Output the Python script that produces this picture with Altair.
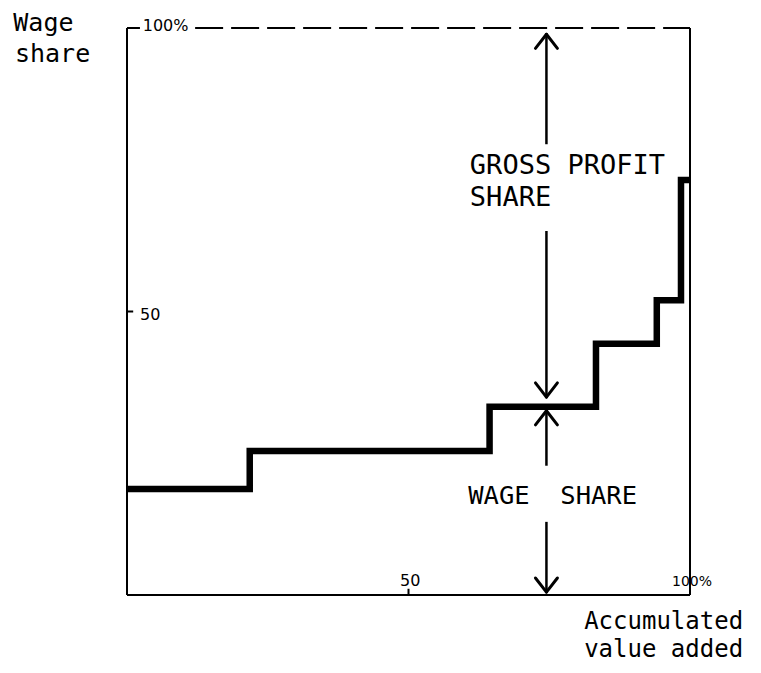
import altair as alt
import pandas as pd

# ---- data ----
# step curve: accumulated value added (x, %) vs wage share (y, %)
cum_value_added = [0, 21.8, 64.4, 83.3, 94.1, 98.4, 100]
wage_share = [18.7, 25.4, 33.2, 44.3, 52.0, 73.2, 73.2]

# axis ticks
x_tick_values = [50]
y_tick_values = [50, 100]
x_tick_labels = ["50", "100%"]
x_tick_label_pos = [50.3, 96.8]
y_tick_labels = ["50", "100%"]
y_tick_label_pos = [49.3, 100.4]

# double-headed arrows (vertical, at one x position)
arrow_x = 74.5
shaft_top = [98.9, 64.2, 32.5, 12.9]
shaft_bottom = [79.5, 34.9, 22.8, 0.5]
tip_y = [98.9, 34.9, 32.5, 0.5]
tip_dir = [1, -1, 1, -1]   # 1 = pointing up, -1 = pointing down
head_half_w = 1.95
head_len = 2.5

# annotation texts
ann_text = ["Wage", "share", "GROSS PROFIT", "SHARE", "WAGE\u00a0\u00a0SHARE",
            "Accumulated", "value added"]
ann_x = [-20.2, -19.9, 60.9, 60.9, 60.6, 81.2, 81.2]
ann_y = [99.5, 94.0, 74.25, 68.6, 16.0, -6.0, -11.0]
ann_size = [25, 25, 27, 27, 25.5, 24, 24]

# ---- build tables ----
W, H = 563, 567
xs = alt.Scale(domain=[0, 100], nice=False, zero=False)
ys = alt.Scale(domain=[0, 100], nice=False, zero=False)

step_df = pd.DataFrame({"x": cum_value_added, "y": wage_share})

axis_segs = [
    (0, 0, 0, 100),      # left axis
    (0, 0, 100, 0),      # bottom axis
    (100, 0, 100, 100),  # right border
    (0, 100, 2.3, 100),  # top tick
]
for v in y_tick_values[:1]:
    axis_segs.append((0, v, 1.1, v))
for v in x_tick_values:
    axis_segs.append((v, 0, v, 1.1))
axis_df = pd.DataFrame(axis_segs, columns=["x", "y", "x2", "y2"])

dash_df = pd.DataFrame({"x": [12.1], "y": [100], "x2": [100], "y2": [100]})

shaft_df = pd.DataFrame({"x": [arrow_x] * 4, "y": shaft_top,
                         "x2": [arrow_x] * 4, "y2": shaft_bottom})
heads = []
for t, d in zip(tip_y, tip_dir):
    heads.append((arrow_x - head_half_w, t - d * head_len, arrow_x, t))
    heads.append((arrow_x + head_half_w, t - d * head_len, arrow_x, t))
head_df = pd.DataFrame(heads, columns=["x", "y", "x2", "y2"])

ann_df = pd.DataFrame({"t": ann_text, "x": ann_x, "y": ann_y, "s": ann_size})

tick_left_df = pd.DataFrame({
    "t": [y_tick_labels[1], y_tick_labels[0], x_tick_labels[1]],
    "x": [2.8, 2.3, x_tick_label_pos[1]],
    "y": [y_tick_label_pos[1], y_tick_label_pos[0], 2.3],
    "s": [16, 16, 14],
})
tick_center_df = pd.DataFrame({"t": [x_tick_labels[0]],
                               "x": [x_tick_label_pos[0]], "y": [2.5], "s": [16]})


def seg_enc(ch):
    return ch.encode(
        x=alt.X("x:Q", scale=xs, axis=None),
        y=alt.Y("y:Q", scale=ys, axis=None),
        x2="x2:Q", y2="y2:Q",
    )


axes = seg_enc(alt.Chart(axis_df).mark_rule(color="black", strokeWidth=2))
dash = seg_enc(alt.Chart(dash_df).mark_rule(color="black", strokeWidth=2,
                                              strokeDash=[28, 8]))
shafts = seg_enc(alt.Chart(shaft_df).mark_rule(color="black", strokeWidth=2.5))
arrowheads = seg_enc(alt.Chart(head_df).mark_rule(color="black", strokeWidth=3,
                                                    strokeCap="round"))

step = alt.Chart(step_df).mark_line(
    color="black", strokeWidth=6.5, interpolate="step-after", strokeJoin="miter"
).encode(
    x=alt.X("x:Q", scale=xs, axis=None),
    y=alt.Y("y:Q", scale=ys, axis=None),
)

ann = alt.Chart(ann_df).mark_text(
    font="DejaVu Sans Mono", align="left", baseline="alphabetic", color="black"
).encode(
    x=alt.X("x:Q", scale=xs, axis=None),
    y=alt.Y("y:Q", scale=ys, axis=None),
    text="t:N",
    size=alt.Size("s:Q", scale=None, legend=None),
)

tick_left = alt.Chart(tick_left_df).mark_text(
    font="DejaVu Sans", align="left", baseline="middle", color="black"
).encode(
    x=alt.X("x:Q", scale=xs, axis=None),
    y=alt.Y("y:Q", scale=ys, axis=None),
    text="t:N",
    size=alt.Size("s:Q", scale=None, legend=None),
)
tick_center = alt.Chart(tick_center_df).mark_text(
    font="DejaVu Sans", align="center", baseline="middle", color="black"
).encode(
    x=alt.X("x:Q", scale=xs, axis=None),
    y=alt.Y("y:Q", scale=ys, axis=None),
    text="t:N",
    size=alt.Size("s:Q", scale=None, legend=None),
)

chart = alt.layer(
    axes, dash, step, shafts, arrowheads, ann, tick_left, tick_center
).properties(
    width=W, height=H,
    padding={"left": 119, "top": 20, "right": 63, "bottom": 68},
    autosize=alt.AutoSizeParams(type="none"),
    background="white",
).configure_view(stroke=None)

chart.save("out.html", embed_options={"renderer": "svg", "actions": False})
